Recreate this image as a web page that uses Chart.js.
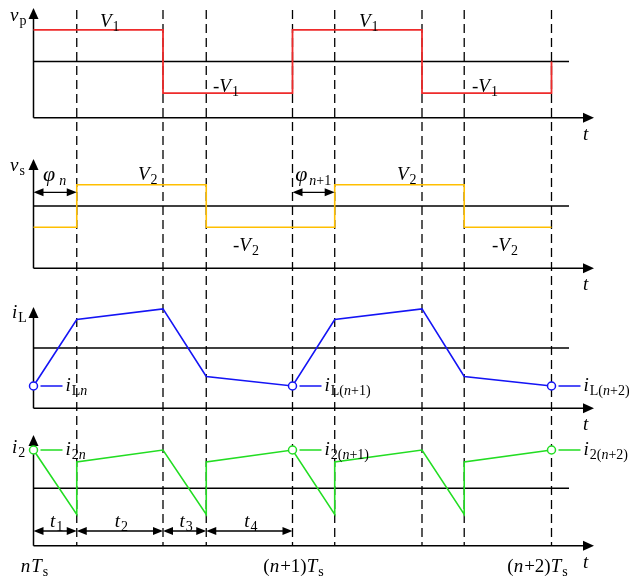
<!DOCTYPE html>
<html>
<head>
<meta charset="utf-8">
<script src="https://cdn.jsdelivr.net/npm/chart.js@4.4.0/dist/chart.umd.min.js"></script>
<style>
  html, body { margin: 0; padding: 0; background: #fff; }
  #wave { display: block; }
</style>
</head>
<body>
<canvas id="wave" width="629" height="581"></canvas>
<script>
// time axis in switching periods Ts, nTs = 0
const markTimes = [0.167, 0.5, 0.667, 1, 1.163, 1.5, 1.663, 2];

// primary voltage vp (V1 = 1)
const vpTimes = [0, 0.5, 0.5, 1, 1, 1.5, 1.5, 2, 2];
const vpValues = [1, 1, -1, -1, 1, 1, -1, -1, 0];

// secondary voltage vs (V2 = 1)
const vsTimes = [0, 0.167, 0.167, 0.667, 0.667, 1.163, 1.163, 1.663, 1.663, 2];
const vsValues = [-1, -1, 1, 1, -1, -1, 1, 1, -1, -1];

// inductor current iL
const iLTimes = [0, 0.167, 0.5, 0.667, 1, 1.163, 1.5, 1.663, 2];
const iLValues = [-1, 0.75, 1.03, -0.75, -1, 0.75, 1.03, -0.75, -1];

// output current i2
const i2Times = [0, 0.167, 0.167, 0.5, 0.667, 0.667, 1, 1.163, 1.163, 1.5, 1.663, 1.663, 2];
const i2Values = [1, -0.68, 0.69, 1, -0.68, 0.69, 1, -0.68, 0.69, 1, -0.68, 0.69, 1];

// sampled values at nTs, (n+1)Ts, (n+2)Ts
const sampleTimes = [0, 1, 2];
const iLSamples = [-1, -1, -1];
const i2Samples = [1, 1, 1];
const sampleIndex = ['n', 'n+1', 'n+2'];

// sub-intervals of one period
const intervalBounds = [0, 0.167, 0.5, 0.667, 1];
const intervalNames = ['1', '2', '3', '4'];
const phaseSpans = [[0, 0.167], [1, 1.163]];
const phaseNames = ['n', 'n+1'];

// ---- layout (pixels) ----
const W = 629, H = 581;
const originPx = 33.5, periodPx = 259;
const panels = {
  yP: { zero: 61.5, unit: 31.6, axis: 117.7, tip: 8 },
  yS: { zero: 206, unit: 21.3, axis: 268.3, tip: 159 },
  yL: { zero: 348, unit: 38, axis: 408.3, tip: 307 },
  yI: { zero: 488.3, unit: 38.3, axis: 545.7, tip: 435 }
};
const zeroEndPx = 569, axisTipPx = 594;
const phiArrowPx = 192.3, intervalArrowPx = 531;

const RED = '#ee2b2b', GOLD = '#ffbf00', BLUE = '#1414f5', GREEN = '#22dd22';
const serif = '"Liberation Serif", "Times New Roman", serif';

function pts(ts, vs) {
  return ts.map((t, i) => ({ x: t, y: vs[i] }));
}

// parts: [text, italic, subscript]
function richWidth(ctx, parts, size) {
  let w = 0;
  parts.forEach(([txt, it, sub]) => {
    ctx.font = (it ? 'italic ' : '') + (sub ? 14 : size) + 'px ' + serif;
    w += ctx.measureText(txt).width;
  });
  return w;
}
function rich(ctx, x, y, parts, size = 19) {
  let cx = x;
  parts.forEach(([txt, it, sub]) => {
    ctx.font = (it ? 'italic ' : '') + (sub ? 14 : size) + 'px ' + serif;
    ctx.fillText(txt, cx, sub ? y + 4 : y);
    cx += ctx.measureText(txt).width + (it && !sub ? 1 : 0);
  });
}

function head(ctx, x, y, dir, len, half) {
  // dir: 'up' | 'right' | 'left'
  ctx.beginPath();
  if (dir === 'up') {
    ctx.moveTo(x, y); ctx.lineTo(x - half, y + len); ctx.lineTo(x + half, y + len);
  } else if (dir === 'right') {
    ctx.moveTo(x, y); ctx.lineTo(x - len, y - half); ctx.lineTo(x - len, y + half);
  } else {
    ctx.moveTo(x, y); ctx.lineTo(x + len, y - half); ctx.lineTo(x + len, y + half);
  }
  ctx.closePath();
  ctx.fill();
}

function doubleArrow(ctx, x1, x2, y) {
  ctx.lineWidth = 1.3;
  ctx.beginPath();
  ctx.moveTo(x1 + 4, y); ctx.lineTo(x2 - 4, y);
  ctx.stroke();
  head(ctx, x1, y, 'left', 10, 4);
  head(ctx, x2, y, 'right', 10, 4);
}

const framePlugin = {
  id: 'frame',
  beforeDatasetsDraw(chart) {
    const ctx = chart.ctx;
    const xs = chart.scales.x;
    const x0 = xs.getPixelForValue(0);
    ctx.save();
    ctx.strokeStyle = '#000';
    ctx.fillStyle = '#000';

    // dashed switching instants
    ctx.lineWidth = 1.3;
    ctx.setLineDash([9, 5]);
    markTimes.forEach(t => {
      const x = xs.getPixelForValue(t);
      ctx.beginPath();
      ctx.moveTo(x, panels.yP.tip + 2);
      ctx.lineTo(x, panels.yI.axis);
      ctx.stroke();
    });
    ctx.setLineDash([]);

    Object.keys(panels).forEach(id => {
      const ys = chart.scales[id];
      const p = panels[id];
      const zy = ys.getPixelForValue(0);
      ctx.lineWidth = 1.4;
      ctx.beginPath();
      ctx.moveTo(x0, zy); ctx.lineTo(zeroEndPx, zy);
      ctx.stroke();
      // axes
      ctx.lineWidth = 1.5;
      ctx.beginPath();
      ctx.moveTo(x0, p.axis); ctx.lineTo(x0, p.tip + 8);
      ctx.moveTo(x0, p.axis); ctx.lineTo(axisTipPx - 8, p.axis);
      ctx.stroke();
      head(ctx, x0, p.tip, 'up', 11, 5);
      head(ctx, axisTipPx, p.axis, 'right', 11, 5);
      ctx.font = 'italic 19px ' + serif;
      ctx.fillText('t', 583, p.axis + 22);
    });
    ctx.restore();
  },
  afterDatasetsDraw(chart) {
    const ctx = chart.ctx;
    const xs = chart.scales.x;
    ctx.save();
    ctx.fillStyle = '#000';
    ctx.strokeStyle = '#000';
    ctx.textBaseline = 'alphabetic';

    // axis names
    rich(ctx, 10, 21, [['v', 1, 0], ['p', 0, 1]]);
    rich(ctx, 10, 171, [['v', 1, 0], ['s', 0, 1]]);
    rich(ctx, 12, 318, [['i', 1, 0], ['L', 0, 1]]);
    rich(ctx, 12, 453, [['i', 1, 0], ['2', 0, 1]]);

    // level labels, once per period
    [0, 1].forEach(k => {
      const px = xs.getPixelForValue(k);
      rich(ctx, px + 66.5, 27, [['V', 1, 0], ['1', 0, 1]]);
      rich(ctx, px + 179.5, 92, [['-', 0, 0], ['V', 1, 0], ['1', 0, 1]]);
      rich(ctx, px + 104.5, 180, [['V', 1, 0], ['2', 0, 1]]);
      rich(ctx, px + 199.5, 251, [['-', 0, 0], ['V', 1, 0], ['2', 0, 1]]);
    });

    // phase shift arrows
    phaseSpans.forEach((s, k) => {
      const a = xs.getPixelForValue(s[0]), b = xs.getPixelForValue(s[1]);
      doubleArrow(ctx, a, b, phiArrowPx);
      const lx = k === 0 ? a + 9.5 : a + 2.7;
      ctx.font = 'italic 22px ' + serif;
      ctx.fillText('φ', lx, 181);
      const w = ctx.measureText('φ').width;
      const nm = phaseNames[k];
      if (nm === 'n') {
        rich(ctx, lx + w + 4, 181, [['n', 1, 1]]);
      } else {
        rich(ctx, lx + w + 2, 181, [['n', 1, 1], ['+1', 0, 1]]);
      }
    });

    // sample leaders and labels
    const sampleRows = [
      { id: 'yL', vals: iLSamples, color: BLUE, sym: 'L' },
      { id: 'yI', vals: i2Samples, color: GREEN, sym: '2' }
    ];
    sampleRows.forEach(row => {
      sampleTimes.forEach((t, k) => {
        const cx = xs.getPixelForValue(t);
        const cy = chart.scales[row.id].getPixelForValue(row.vals[k]);
        ctx.strokeStyle = row.color;
        ctx.lineWidth = 1.5;
        ctx.beginPath();
        ctx.moveTo(cx + 7, cy); ctx.lineTo(cx + 29, cy);
        ctx.stroke();
        const idx = sampleIndex[k];
        let parts;
        if (idx === 'n') {
          parts = [['i', 1, 0], [row.sym, 0, 1], ['n', 1, 1]];
        } else {
          parts = [['i', 1, 0], [row.sym + '(', 0, 1], ['n', 1, 1], [idx.slice(1) + ')', 0, 1]];
        }
        rich(ctx, cx + 32, cy + 5, parts);
      });
    });

    // sub-interval arrows t1..t4
    ctx.strokeStyle = '#000';
    for (let i = 0; i < intervalNames.length; i++) {
      const a = xs.getPixelForValue(intervalBounds[i]);
      const b = xs.getPixelForValue(intervalBounds[i + 1]);
      doubleArrow(ctx, a, b, intervalArrowPx);
      const parts = [['t', 1, 0], [intervalNames[i], 0, 1]];
      const w = richWidth(ctx, parts, 19);
      rich(ctx, (a + b) / 2 - w / 2 + 1, 527, parts);
    }

    // period instants
    const periodParts = [
      [['n', 1, 0], ['T', 1, 0], ['s', 0, 1]],
      [['(', 0, 0], ['n', 1, 0], ['+1)', 0, 0], ['T', 1, 0], ['s', 0, 1]],
      [['(', 0, 0], ['n', 1, 0], ['+2)', 0, 0], ['T', 1, 0], ['s', 0, 1]]
    ];
    const shift = [0, 0, -15];
    sampleTimes.forEach((t, k) => {
      const w = richWidth(ctx, periodParts[k], 19);
      rich(ctx, xs.getPixelForValue(t) - w / 2 + shift[k], 572, periodParts[k]);
    });
    ctx.restore();
  }
};

const yScales = {};
Object.keys(panels).forEach(id => {
  const p = panels[id];
  yScales[id] = {
    type: 'linear', display: false,
    min: -(H - p.zero) / p.unit,
    max: p.zero / p.unit
  };
});

const lineStyle = { pointRadius: 0, tension: 0, fill: false, borderWidth: 1.6 };

new Chart(document.getElementById('wave'), {
  type: 'line',
  data: {
    datasets: [
      { label: 'iL samples', data: pts(sampleTimes, iLSamples), yAxisID: 'yL', showLine: false,
        pointRadius: 4, pointBorderWidth: 1.5, pointBorderColor: BLUE, pointBackgroundColor: '#fff' },
      { label: 'i2 samples', data: pts(sampleTimes, i2Samples), yAxisID: 'yI', showLine: false,
        pointRadius: 4, pointBorderWidth: 1.5, pointBorderColor: GREEN, pointBackgroundColor: '#fff' },
      Object.assign({ label: 'vp', data: pts(vpTimes, vpValues), yAxisID: 'yP', borderColor: RED }, lineStyle, { borderWidth: 1.8 }),
      Object.assign({ label: 'vs', data: pts(vsTimes, vsValues), yAxisID: 'yS', borderColor: GOLD }, lineStyle),
      Object.assign({ label: 'iL', data: pts(iLTimes, iLValues), yAxisID: 'yL', borderColor: BLUE }, lineStyle),
      Object.assign({ label: 'i2', data: pts(i2Times, i2Values), yAxisID: 'yI', borderColor: GREEN }, lineStyle)
    ]
  },
  options: {
    responsive: false,
    animation: false,
    layout: { padding: 0, autoPadding: false },
    plugins: { legend: { display: false }, tooltip: { enabled: false } },
    scales: Object.assign({
      x: { type: 'linear', display: false,
           min: -originPx / periodPx, max: (W - originPx) / periodPx }
    }, yScales)
  },
  plugins: [framePlugin]
});
</script>
</body>
</html>
